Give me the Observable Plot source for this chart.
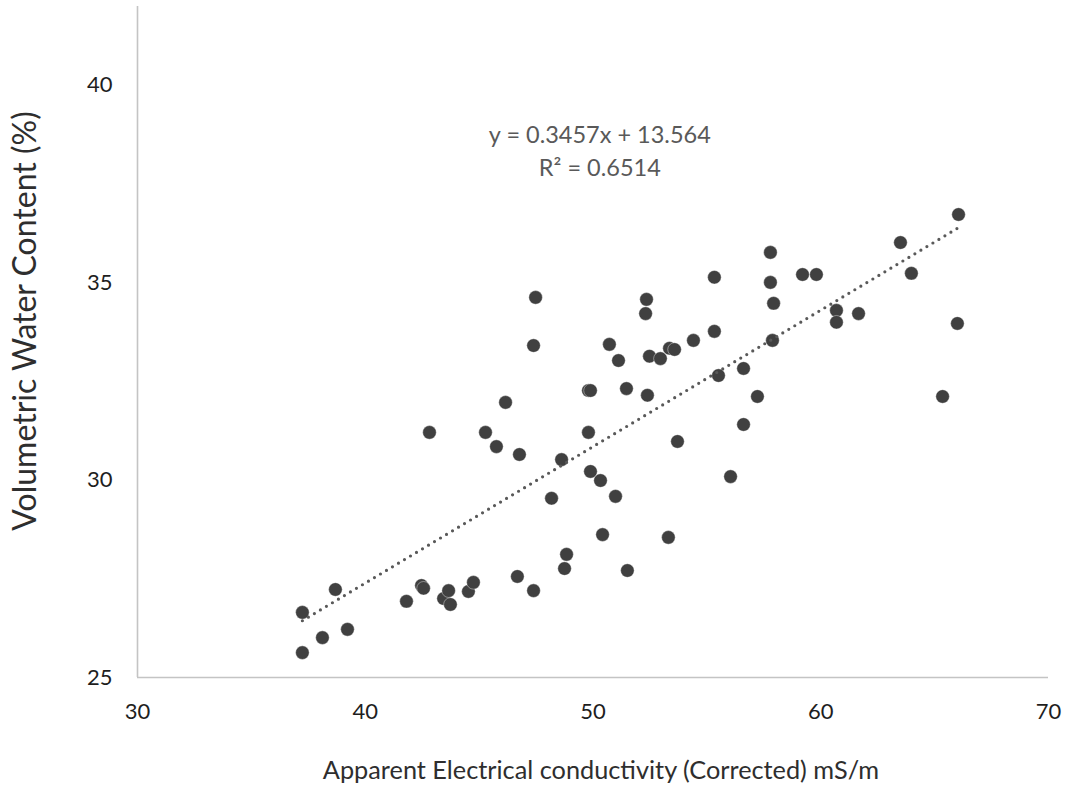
<!DOCTYPE html>
<html>
<head>
<meta charset="utf-8">
<script src="https://cdn.jsdelivr.net/npm/d3@7"></script>
<script src="https://cdn.jsdelivr.net/npm/@observablehq/plot@0.6"></script>
<style>
  html, body { margin: 0; padding: 0; background: #fff; }
  #chart svg { display: block; }
</style>
</head>
<body>
<div id="chart"></div>
<script>
// Apparent electrical conductivity (corrected), mS/m
const conductivity = [
  37.24, 37.24, 38.12, 38.69, 39.22, 41.81, 42.47, 42.56, 43.44, 43.66,
  43.74, 44.53, 44.75, 46.68, 47.39, 48.84, 48.75, 47.48, 47.39, 46.16,
  42.82, 45.28, 45.76, 46.77, 48.62, 48.18, 49.80, 49.80, 49.89, 49.89,
  50.33, 50.99, 50.42, 51.51, 50.72, 51.12, 51.47, 52.35, 52.31, 52.48,
  52.39, 52.96, 53.36, 53.58, 54.41, 55.33, 55.33, 55.51, 53.71, 53.31,
  56.04, 56.61, 56.61, 57.22, 57.79, 57.79, 57.93, 57.88, 59.20, 59.81,
  60.69, 60.69, 61.66, 63.50, 63.98, 66.05, 66.00, 65.35
];

// Volumetric water content, %
const waterContent = [
  26.65, 25.63, 26.01, 27.23, 26.22, 26.93, 27.33, 27.26, 27.00, 27.20,
  26.85, 27.18, 27.41, 27.56, 27.20, 28.12, 27.76, 34.63, 33.41, 31.97,
  31.21, 31.21, 30.85, 30.65, 30.52, 29.54, 31.21, 32.27, 32.27, 30.22,
  29.99, 29.59, 28.62, 27.71, 33.44, 33.03, 32.32, 34.58, 34.22, 33.14,
  32.15, 33.08, 33.34, 33.31, 33.54, 33.77, 35.14, 32.65, 30.98, 28.55,
  30.09, 32.83, 31.41, 32.12, 35.77, 35.01, 34.48, 33.54, 35.21, 35.21,
  34.30, 34.00, 34.22, 36.02, 35.24, 36.73, 33.97, 32.12
];

// Linear trend line fitted to the samples
const slope = 0.3457;
const intercept = 13.564;
const rSquared = 0.6514;

const xTicks = [30, 40, 50, 60, 70];
const yTicks = [25, 30, 35, 40];
const xDomain = [30, 70];
const yDomain = [25, 42];

const xTitle = "Apparent Electrical conductivity (Corrected) mS/m";
const yTitle = "Volumetric Water Content (%)";
const equationLines = [
  `y = ${slope}x + ${intercept}`,
  `R² = ${rSquared}`
];
// Where the equation box sits, in data units
const equationAnchor = {x: 50.3, y: [38.72, 37.9]};

const samples = conductivity.map((c, i) => ({ec: c, vwc: waterContent[i]}));
const [xMin, xMax] = d3.extent(conductivity);
const trend = [xMin, xMax].map(x => ({ec: x, vwc: slope * x + intercept}));
const equation = equationLines.map((t, i) => ({text: t, ec: equationAnchor.x, vwc: equationAnchor.y[i]}));

const font = "Lato, 'Open Sans', sans-serif";

const chart = Plot.plot({
  width: 1069,
  height: 790,
  marginLeft: 137,
  marginRight: 21,
  marginTop: 6,
  marginBottom: 113,
  style: {fontFamily: font, fontSize: "22px", color: "#1e1e1e", background: "#fff", overflow: "visible"},
  x: {domain: xDomain, ticks: xTicks, tickSize: 0, tickPadding: 26, label: null, tickFormat: d => d},
  y: {domain: yDomain, ticks: yTicks, tickSize: 0, tickPadding: 25, label: null, tickFormat: d => d},
  marks: [
    Plot.ruleX([xDomain[0]], {stroke: "#c4c4c4", strokeWidth: 1.6}),
    Plot.ruleY([yDomain[0]], {stroke: "#c4c4c4", strokeWidth: 1.6}),
    Plot.dot(samples, {x: "ec", y: "vwc", r: 6.8, fill: "#404040", stroke: "#fff", strokeWidth: 0.4}),
    Plot.line(trend, {x: "ec", y: "vwc", stroke: "#595959", strokeWidth: 3.2, strokeDasharray: "0 7", strokeLinecap: "round"}),
    Plot.text(equation, {x: "ec", y: "vwc", text: "text", fill: "#595959", fontSize: 23.5, textAnchor: "middle", lineAnchor: "middle"}),
    Plot.text([xTitle], {frameAnchor: "bottom", dx: 8, dy: 93, fill: "#2e2e2e", fontSize: 25.3, textAnchor: "middle", lineAnchor: "middle"}),
    Plot.text([yTitle], {frameAnchor: "left", dx: -112, dy: -21, rotate: -90, fill: "#2e2e2e", fontSize: 32, textAnchor: "middle", lineAnchor: "middle"})
  ]
});

document.getElementById("chart").appendChild(chart);
</script>
</body>
</html>
